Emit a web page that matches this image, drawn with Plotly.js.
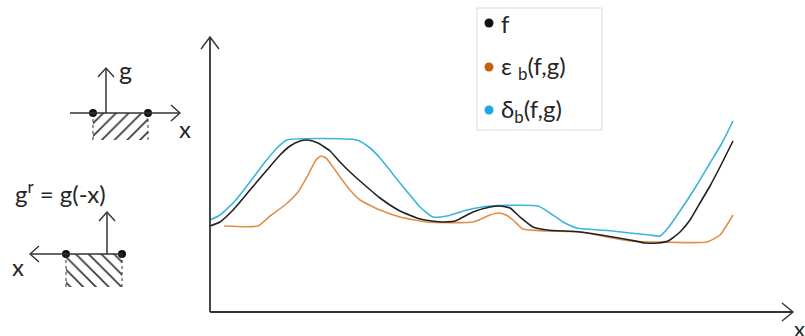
<!DOCTYPE html>
<html>
<head>
<meta charset="utf-8">
<script src="https://cdn.plot.ly/plotly-3.0.1.min.js"></script>
<style>html,body{margin:0;padding:0;background:#fff;}#chart{width:805px;height:336px;}</style>
</head>
<body>
<div id="chart"></div>
<script>
// Signal f (black)
var fX = [0,10,23,40,57,70,80,90,98,108,120,130,140,150,170,190,210,230,245,263,280,290,300,310,323,337,370,403,420,435,448,458,470,480,490,500,510,523];
var fY = [86,90,102,122,142,157,166,171,172,169,161,150,140,131,114,101,93,90,91,100,105,106,104,95,85,82,80,75,72,69,69,71,80,92,109,126,145,171];
// Erosion (orange)
var eX = [14,48,60,75,88,98,106,111,116,123,130,140,150,170,190,217,263,280,288,296,303,313,337,370,403,420,450,497,510,523];
var eY = [86,86,96,107,120,137,152,156,154,145,135,122,112,102,95,90,90,97,99,97,92,83,81,80,74,71,70,70,77,97];
// Dilation (blue)
var dX = [0,10,25,40,55,68,77,147,160,170,190,210,223,237,257,280,328,340,353,367,403,420,440,450,458,470,485,500,512,523];
var dY = [92,97,111,130,150,165,172,172,164,154,129,105,95,96,102,106,106,99,90,84,81,79,77,76,84,101,124,149,169,191];

var legendLabels = ['f', 'ε <sub>b</sub>(f,g)', 'δ<sub>b</sub>(f,g)'];
var legendColors = ['#111111', '#c5600f', '#1aa8e8'];
var lineColors = ['#222222', '#e0904a', '#3cb4dc'];

var FONT = 'Lato, "Open Sans", sans-serif';
var TXT = '#262626';

var traces = [];
function curve(x, y, c) {
  traces.push({x: x, y: y, mode: 'lines', type: 'scatter', showlegend: false, hoverinfo: 'skip',
    line: {color: c, width: 1.6, shape: 'spline', smoothing: 0.5}, cliponaxis: false});
}
curve(eX, eY, lineColors[1]);
curve(dX, dY, lineColors[2]);
curve(fX, fY, lineColors[0]);

// hatched supports
function hatch(x0, x1, y0, y1, pat) {
  traces.push({x: [x0, x1, x1, x0, x0], y: [y0, y0, y1, y1, y0], type: 'scatter', mode: 'lines',
    fill: 'toself', fillcolor: 'rgba(0,0,0,0)', line: {width: 0, color: 'rgba(0,0,0,0)'},
    fillpattern: {shape: pat, size: 9, solidity: 0.18, fgcolor: '#333333', bgcolor: 'rgba(0,0,0,0)'},
    showlegend: false, hoverinfo: 'skip'});
}
hatch(-117, -62, 172, 199, '/');
hatch(-144, -88, 25, 58, '\\');

// dots on small diagrams
traces.push({x: [-117, -62, -144, -88], y: [199, 199, 58, 58], mode: 'markers', type: 'scatter',
  marker: {color: '#111', size: 8}, showlegend: false, hoverinfo: 'skip', cliponaxis: false});

// legend dots
var legY = [289, 245, 202];
traces.push({x: [279, 279, 279], y: legY, mode: 'markers', type: 'scatter',
  marker: {color: legendColors, size: 9}, showlegend: false, hoverinfo: 'skip', cliponaxis: false});

var AX = '#333333';
var shapes = [];
function seg(x0, y0, x1, y1, w, dash) {
  shapes.push({type: 'line', xref: 'x', yref: 'y', x0: x0, y0: y0, x1: x1, y1: y1,
    line: {color: AX, width: w || 1.6, dash: dash || 'solid'}});
}
function chev(pts) {
  var p = 'M' + pts[0][0] + ',' + pts[0][1] + ' L' + pts[1][0] + ',' + pts[1][1] + ' L' + pts[2][0] + ',' + pts[2][1];
  shapes.push({type: 'path', xref: 'x', yref: 'y', path: p, line: {color: AX, width: 1.4}});
}
// main axes
seg(0, 0, 0, 275, 1.8);
chev([[-9, 263], [0, 275], [9, 263]]);
seg(0, 0, 583, 0, 1.8);
chev([[572, 9], [583, 0], [572, -9]]);
// diagram 1
seg(-104, 199, -104, 244, 1.5);
chev([[-112, 235], [-104, 244], [-96, 235]]);
seg(-140, 199, -30, 199, 1.5);
chev([[-39, 207], [-30, 199], [-39, 191]]);
seg(-117, 199, -117, 172, 1, 'dot');
seg(-62, 199, -62, 172, 1, 'dot');
// diagram 2
seg(-103, 58, -103, 100, 1.5);
chev([[-111, 91], [-103, 100], [-95, 91]]);
seg(-180, 58, -88, 58, 1.5);
chev([[-171, 66], [-180, 58], [-171, 50]]);
seg(-144, 58, -144, 25, 1, 'dot');
seg(-88, 58, -88, 25, 1, 'dot');
// legend box
shapes.push({type: 'rect', xref: 'x', yref: 'y', x0: 267, x1: 392, y0: 182, y1: 304,
  line: {color: '#d9d9d9', width: 1}, fillcolor: 'rgba(0,0,0,0)'});

var annotations = [];
function label(x, y, t, size, anchor) {
  annotations.push({x: x, y: y, xref: 'x', yref: 'y', text: t, showarrow: false,
    xanchor: anchor || 'center', yanchor: 'middle', font: {family: FONT, size: size || 20, color: TXT}});
}
label(-85, 242, 'g', 25);
label(-25, 184, 'x', 24);
label(-150, 120, 'g<sup>r</sup> = g(-x)', 24);
label(-192, 46, 'x', 24);
label(589, -16, 'x', 22);
for (var i = 0; i < legendLabels.length; i++) {
  label(289, legY[i], legendLabels[i], 24, 'left');
}

var layout = {
  width: 805, height: 336,
  margin: {l: 0, r: 0, t: 0, b: 0, pad: 0},
  paper_bgcolor: '#ffffff', plot_bgcolor: '#ffffff',
  showlegend: false,
  xaxis: {range: [-210, 595], visible: false, fixedrange: true},
  yaxis: {range: [-24, 312], visible: false, fixedrange: true},
  shapes: shapes,
  annotations: annotations,
  font: {family: FONT}
};
Plotly.newPlot('chart', traces, layout, {displayModeBar: false, staticPlot: true});
</script>
</body>
</html>
